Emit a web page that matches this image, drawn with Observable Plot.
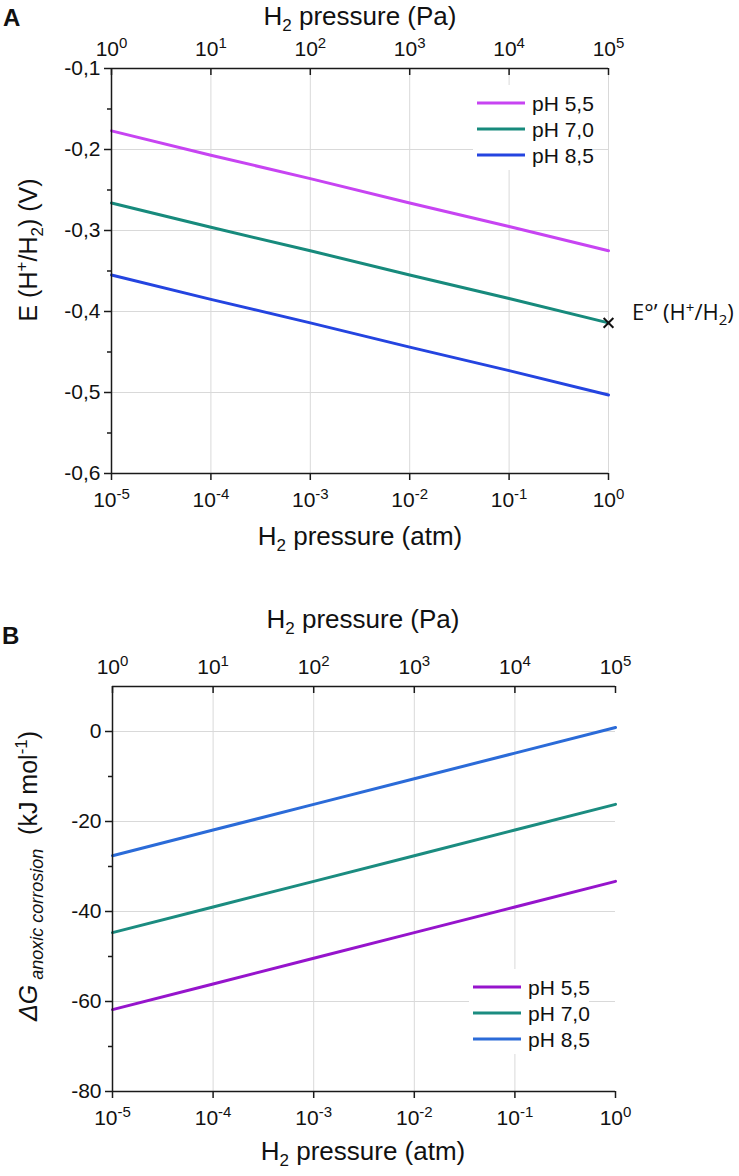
<!DOCTYPE html>
<html><head><meta charset="utf-8">
<script src="https://cdn.jsdelivr.net/npm/d3@7"></script>
<script src="https://cdn.jsdelivr.net/npm/@observablehq/plot@0.6"></script>
<style>
body{margin:0;background:#fff;}
#wrap{position:relative;width:739px;height:1176px;overflow:hidden;background:#fff;}
.panel{position:absolute;left:0;}
svg{display:block;}
</style></head><body>
<div id="wrap"><div id="pa" class="panel" style="top:0"></div><div id="pb" class="panel" style="top:560px"></div></div>
<script>
// ---------- data ----------
const pressureAtm = [1e-5, 1e-4, 1e-3, 1e-2, 1e-1, 1];
const seriesNames = ["pH 5,5", "pH 7,0", "pH 8,5"];
// Panel A: E (H+/H2) in V
const eA_pH55 = [-0.177, -0.207, -0.236, -0.266, -0.295, -0.325];
const eA_pH70 = [-0.266, -0.296, -0.325, -0.355, -0.384, -0.414];
const eA_pH85 = [-0.355, -0.385, -0.414, -0.444, -0.473, -0.503];
const eStdPressure = [1];
const eStdValue = [-0.414];
// Panel B: ΔG anoxic corrosion in kJ/mol
const gB_pH55 = [-61.8, -56.1, -50.4, -44.7, -39.0, -33.3];
const gB_pH70 = [-44.7, -39.0, -33.3, -27.6, -21.9, -16.2];
const gB_pH85 = [-27.6, -21.9, -16.2, -10.5, -4.8, 0.9];
// ticks
const yTicksA = [-0.6, -0.5, -0.4, -0.3, -0.2, -0.1];
const yMinorA = [-0.55, -0.45, -0.35, -0.25, -0.15];
const yTicksB = [-80, -60, -40, -20, 0];
const yMinorB = [-70, -50, -30, -10];
const colorsA = ["#c744f2", "#178a7c", "#2444e0"];
const colorsB = ["#9614cc", "#1b8c80", "#2b6bd8"];

// ---------- helpers ----------
const FONT = "'Liberation Sans', Arial, Helvetica, sans-serif";
const AX = "#1a1a1a";
const GRID = "#d9d9d9";
const fmtComma = d => d.toFixed(1).replace(".", ",");
const expAtm = d => "10^" + Math.round(Math.log10(d));
const expPa = d => "10^" + (Math.round(Math.log10(d)) + 5);

function rows(vals) {
  return seriesNames.flatMap((s, i) => pressureAtm.map((p, j) => ({p, v: vals[i][j], s})));
}
function rich(parent, x, y, parts, attrs) {
  const t = parent.append("text").attr("x", x).attr("y", y).attr("text-anchor", "start");
  for (const [k, v] of Object.entries(attrs || {})) t.attr(k, v);
  for (const p of parts) {
    if (typeof p === "string") t.append("tspan").text(p);
    else {
      const s = t.append("tspan").text(p.t);
      if (p.shift) s.attr("baseline-shift", p.shift);
      if (p.size) s.attr("font-size", p.size);
      if (p.italic) s.attr("font-style", "italic");
    }
  }
  return t;
}
function superscripts(svg) {
  d3.select(svg).selectAll("text").each(function () {
    if (this.childElementCount) return;
    const m = (this.textContent || "").match(/^10\^(.*)$/);
    if (!m) return;
    const sel = d3.select(this);
    sel.text("10");
    sel.append("tspan").attr("baseline-shift", "8px").attr("font-size", "15px").text(m[1]);
  });
}
function legend(svg, x0, y0, colors) {
  const g = d3.select(svg).append("g").attr("font-family", FONT).attr("text-anchor", "start");
  g.append("rect").attr("x", x0 - 4).attr("y", y0 - 18).attr("width", 120).attr("height", 85).attr("fill", "#fff");
  seriesNames.forEach((s, i) => {
    const y = y0 + i * 26;
    g.append("line").attr("x1", x0).attr("x2", x0 + 48).attr("y1", y).attr("y2", y)
      .attr("stroke", colors[i]).attr("stroke-width", 3);
    g.append("text").attr("x", x0 + 55).attr("y", y + 7.5).attr("font-size", "21px").attr("fill", "#111").text(s);
  });
}

function panel({height, mt, mb, ml, mr, domainY, yTicks, yMinor, yFmt, data, colors, gridXTicks, extraMarks}) {
  const innerH = height - mt - mb;
  const txt = {fontSize: 21, fontFamily: FONT, fill: "#111"};
  return Plot.plot({
    width: 739, height, marginTop: mt, marginBottom: mb, marginLeft: ml, marginRight: mr,
    style: {fontFamily: FONT, fontSize: "21px", color: "#111", background: "transparent", overflow: "visible"},
    x: {type: "log", domain: [1e-5, 1], label: null},
    y: {domain: domainY, label: null},
    color: {domain: seriesNames, range: colors},
    marks: [
      Plot.gridX(gridXTicks, {stroke: GRID, strokeOpacity: 1, strokeWidth: 1}),
      Plot.gridY(yTicks, {stroke: GRID, strokeOpacity: 1, strokeWidth: 1}),
      Plot.line(data, {x: "p", y: "v", stroke: "s", strokeWidth: 3}),
      ...(extraMarks || []),
      Plot.ruleX([1e-5], {stroke: AX, strokeWidth: 1.5}),
      Plot.ruleY([domainY[0]], {stroke: AX, strokeWidth: 1.5}),
      Plot.ruleY([domainY[1]], {stroke: AX, strokeWidth: 1.5}),
      Plot.axisY({ticks: yTicks, tickSize: 7, tickPadding: 4, tickFormat: yFmt, stroke: AX, strokeWidth: 1.5, ...txt}),
      Plot.axisY({ticks: yMinor, tickSize: 4, tickFormat: () => "", stroke: AX, strokeWidth: 1.5}),
      Plot.axisX({anchor: "bottom", ticks: pressureAtm, tickSize: 7, tickPadding: 12, tickFormat: expAtm, stroke: AX, strokeWidth: 1.5, ...txt}),
      Plot.axisX({anchor: "top", ticks: pressureAtm, tickSize: 0, tickPadding: 13, tickFormat: expPa, ...txt}),
      Plot.tickX(pressureAtm, {x: d => d, insetBottom: innerH - 7, stroke: AX, strokeWidth: 1.5})
    ]
  });
}

// ---------- Panel A ----------
const svgA = panel({
  height: 560, mt: 68, mb: 87, ml: 111, mr: 131,
  domainY: [-0.6, -0.1], yTicks: yTicksA, yMinor: yMinorA, yFmt: fmtComma,
  data: rows([eA_pH55, eA_pH70, eA_pH85]), colors: colorsA,
  gridXTicks: pressureAtm,
  extraMarks: [
    Plot.dot(eStdPressure.map((p, i) => ({p, v: eStdValue[i]})), {x: "p", y: "v", symbol: "times", r: 4.5, stroke: "#111", strokeWidth: 2})
  ]
});
document.getElementById("pa").appendChild(svgA);
superscripts(svgA);
legend(svgA, 477, 103, colorsA);
{
  const s = d3.select(svgA);
  const g = s.append("g").attr("font-family", FONT);
  g.append("text").attr("x", 3).attr("y", 26).attr("text-anchor", "start").attr("font-size", "24px").attr("font-weight", "bold").attr("fill", "#111").text("A");
  rich(g, 360, 25, ["H", {t: "2", size: "17px", shift: "-6px"}, " pressure (Pa)"], {"text-anchor": "middle", "font-size": "26px", fill: "#111"});
  rich(g, 360, 545, ["H", {t: "2", size: "17px", shift: "-6px"}, " pressure (atm)"], {"text-anchor": "middle", "font-size": "26px", fill: "#111"});
  rich(g, 0, 0, ["E (H", {t: "+", size: "17px", shift: "10px"}, "/H", {t: "2", size: "17px", shift: "-6px"}, ") (V)"],
    {"text-anchor": "middle", "font-size": "25px", fill: "#111", transform: "translate(37,250) rotate(-90)"});
  rich(g, 632, 320, ["E°’ (H", {t: "+", size: "15px", shift: "7px"}, "/H", {t: "2", size: "15px", shift: "-5px"}, ")"],
    {"font-size": "22px", "font-family": "'Open Sans', 'Noto Sans', sans-serif", fill: "#111"});
}

// ---------- Panel B ----------
const svgB = panel({
  height: 616, mt: 126, mb: 85, ml: 112, mr: 124,
  domainY: [-80, 10], yTicks: yTicksB, yMinor: yMinorB, yFmt: d => String(d),
  data: rows([gB_pH55, gB_pH70, gB_pH85]), colors: colorsB,
  gridXTicks: pressureAtm.slice(0, 5)
});
document.getElementById("pb").appendChild(svgB);
superscripts(svgB);
legend(svgB, 473, 427, colorsB);
{
  const s = d3.select(svgB);
  const g = s.append("g").attr("font-family", FONT);
  g.append("text").attr("x", 2).attr("y", 84).attr("text-anchor", "start").attr("font-size", "24px").attr("font-weight", "bold").attr("fill", "#111").text("B");
  rich(g, 363, 68, ["H", {t: "2", size: "17px", shift: "-6px"}, " pressure (Pa)"], {"text-anchor": "middle", "font-size": "26px", fill: "#111"});
  rich(g, 363, 600, ["H", {t: "2", size: "17px", shift: "-6px"}, " pressure (atm)"], {"text-anchor": "middle", "font-size": "26px", fill: "#111"});
  rich(g, 0, 0, [{t: "ΔG", italic: true}, {t: " anoxic corrosion", italic: true, size: "18px", shift: "-6px"}, "  (kJ mol", {t: "-1", size: "17px", shift: "10px"}, ")"],
    {"text-anchor": "middle", "font-size": "25px", fill: "#111", transform: "translate(37,316) rotate(-90)"});
}
</script>
</body></html>
